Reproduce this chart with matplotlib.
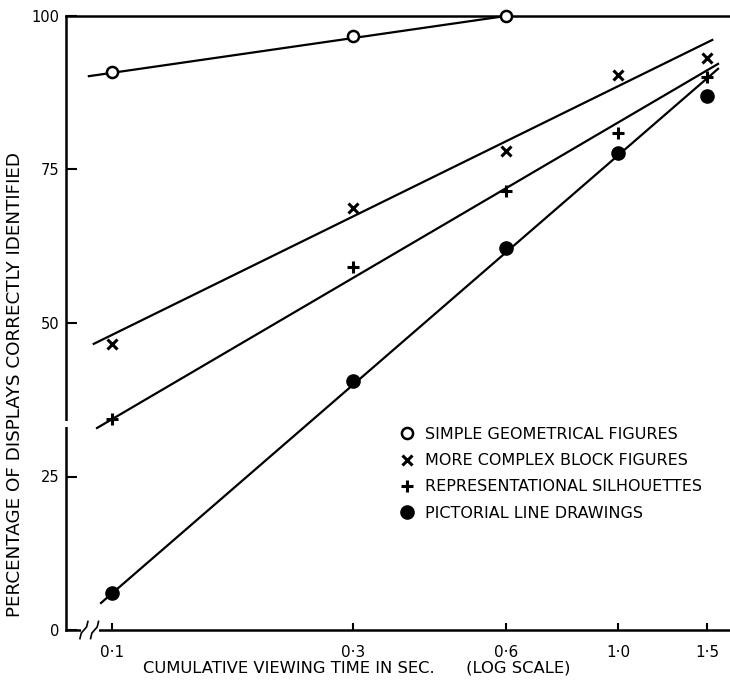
import numpy as np
import matplotlib
matplotlib.use('Agg')
import matplotlib.pyplot as plt
from matplotlib.lines import Line2D

# Data (x = cumulative viewing time in sec.)
times = [0.1, 0.3, 0.6, 1.0, 1.5]
tick_labels = ['0·1', '0·3', '0·6', '1·0', '1·5']

simple_geo = [90.9, 96.8, 100.0]          # only first three times
complex_block = [46.6, 68.7, 78.0, 90.4, 93.2]
silhouettes = [34.4, 59.1, 71.5, 80.9, 90.1]
line_drawings = [6.0, 40.6, 62.2, 77.7, 87.0]

# Hand-fitted lines (start/end)
fit_simple_x = [0.09, 0.6]
fit_simple_y = [90.2, 100.0]
fit_complex_x = [0.092, 1.535]
fit_complex_y = [46.6, 96.1]
fit_silh_x = [0.0934, 1.576]
fit_silh_y = [32.9, 92.2]
fit_draw_x = [0.0951, 1.576]
fit_draw_y = [4.4, 91.4]

labels = ['SIMPLE GEOMETRICAL FIGURES',
          'MORE COMPLEX BLOCK FIGURES',
          'REPRESENTATIONAL SILHOUETTES',
          'PICTORIAL LINE DRAWINGS']

plt.rcParams['font.family'] = ['DejaVu Sans']

fig = plt.figure(figsize=(7.3, 6.81), dpi=100)
ax = fig.add_axes([66 / 730, 51 / 681, 664 / 730, 614 / 681])

lw = 1.6
ax.plot(fit_simple_x, fit_simple_y, color='black', lw=lw)
ax.plot(fit_complex_x, fit_complex_y, color='black', lw=lw)
ax.plot(fit_silh_x, fit_silh_y, color='black', lw=lw)
ax.plot(fit_draw_x, fit_draw_y, color='black', lw=lw)

ax.plot(times[:3], simple_geo, 'o', ms=8, mfc='white', mec='black', mew=1.8, clip_on=False, zorder=5)
ax.plot(times, complex_block, 'x', ms=6.5, mec='black', mew=2.2, zorder=5)
ax.plot(times, silhouettes, '+', ms=9, mec='black', mew=2.2, zorder=5)
ax.plot(times, line_drawings, 'o', ms=9.5, mfc='black', mec='black', zorder=5)

ax.set_xscale('log')
ax.set_xlim(0.0811, 1.664)
ax.set_ylim(0, 100)

ax.set_xticks(times)
ax.set_xticklabels(tick_labels)
ax.xaxis.set_minor_locator(matplotlib.ticker.NullLocator())
ax.set_yticks([0, 25, 50, 75, 100])
ax.set_yticklabels(['0', '25', '50', '75', '100'])

ax.tick_params(axis='y', direction='in', length=8, width=1.5, labelsize=10.5, pad=5)
ax.tick_params(axis='x', direction='in', length=5, width=1.5, labelsize=11, pad=11)

for side in ['left', 'bottom', 'top']:
    ax.spines[side].set_linewidth(1.8)
ax.spines['right'].set_visible(False)

ax.set_ylabel('PERCENTAGE OF DISPLAYS CORRECTLY IDENTIFIED', fontsize=13.2)
ax.yaxis.set_label_coords(-0.063, 0.40)
ax.set_xlabel('CUMULATIVE VIEWING TIME IN SEC.      (LOG SCALE)', fontsize=11.8)
ax.xaxis.set_label_coords(0.438, -0.05)

# axis break on the bottom-left
ax.plot([0.022, 0.05], [0, 0], transform=ax.transAxes, color='white', lw=4,
        solid_capstyle='butt', clip_on=False, zorder=6)
for x0 in [0.027, 0.043]:
    ax.plot([x0 - 0.006, x0 - 0.004, x0 + 0.004, x0 + 0.006],
            [-0.014, -0.005, 0.005, 0.014],
            transform=ax.transAxes, color='black', lw=1.2, clip_on=False, zorder=7)
# small gap in the left spine
ax.plot([0, 0], [0.330, 0.341], transform=ax.transAxes, color='white', lw=4,
        solid_capstyle='butt', clip_on=False, zorder=6)

handles = [
    Line2D([], [], ls='none', marker='o', ms=8, mfc='white', mec='black', mew=1.8),
    Line2D([], [], ls='none', marker='x', ms=6.5, mec='black', mew=2.2),
    Line2D([], [], ls='none', marker='+', ms=9, mec='black', mew=2.2),
    Line2D([], [], ls='none', marker='o', ms=9.5, mfc='black', mec='black'),
]
ax.legend(handles, labels, loc='upper left', bbox_to_anchor=(0.497, 0.341),
          frameon=False, fontsize=11.5, handlelength=0.6, handletextpad=0.83,
          labelspacing=0.7, borderaxespad=0)

plt.savefig('out.png', dpi=100, facecolor='white')
